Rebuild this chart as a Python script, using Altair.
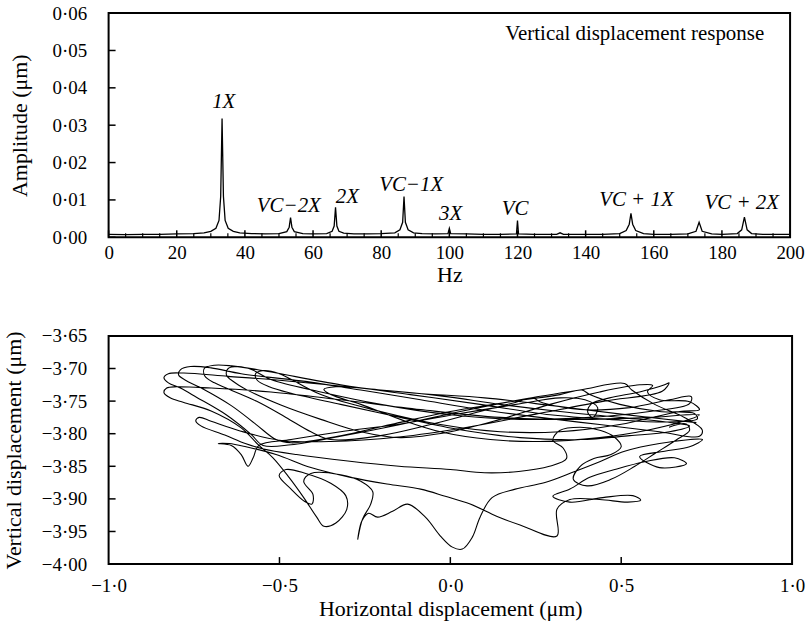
import altair as alt
import pandas as pd

FONT = "Liberation Serif"

# ---------------- top panel: amplitude spectrum ----------------
spec_hz = [0, 5, 10, 15, 20, 25, 28, 30, 31.5, 32.4, 32.9, 33.3, 33.7, 34.2, 35.1, 36.6, 38.5, 42, 46, 50,
           52.3, 53.0, 53.4, 53.8, 54.5, 57, 60, 64, 65.6, 66.2, 66.6, 67.0, 67.6, 69, 72, 76, 80, 84,
           85.5, 86.3, 86.7, 87.1, 87.9, 89.5, 92, 96, 99.6, 100, 100.4, 105, 110, 115, 119.7, 120, 120.3,
           125, 131.5, 132.5, 133.5, 140, 145, 150, 151.9, 152.8, 153.3, 153.8, 154.7, 157, 160, 165, 170,
           172.4, 173.3, 174.2, 177, 180, 184.5, 185.8, 186.6, 187.4, 188.7, 192, 196, 200]
spec_amp = [0.0008, 0.0007, 0.0008, 0.0008, 0.0009, 0.0010, 0.0012, 0.0016, 0.0024, 0.0045, 0.011, 0.0318,
            0.011, 0.0045, 0.0024, 0.0016, 0.0012, 0.0010, 0.0009, 0.0010,
            0.0015, 0.0027, 0.0053, 0.0027, 0.0015, 0.0010, 0.0009, 0.0010, 0.0016, 0.0030, 0.0080, 0.0030,
            0.0016, 0.0011, 0.0009, 0.0009, 0.0010, 0.0012,
            0.0020, 0.0040, 0.0109, 0.0040, 0.0020, 0.0012, 0.0010, 0.0009, 0.0010, 0.0024, 0.0010, 0.0009,
            0.0008, 0.0008, 0.0009, 0.0045, 0.0009,
            0.0008, 0.0008, 0.0012, 0.0008, 0.0008, 0.0008, 0.0010, 0.0018, 0.0035, 0.0064, 0.0035, 0.0018,
            0.0010, 0.0008, 0.0008, 0.0009,
            0.0016, 0.0040, 0.0016, 0.0009, 0.0008, 0.0010, 0.0020, 0.0054, 0.0020, 0.0010, 0.0008, 0.0008,
            0.0008]

peak_labels = ["1X", "VC\u22122X", "2X", "VC\u22121X", "3X", "VC", "VC + 1X", "VC + 2X"]
label_hz = [33.8, 52.9, 70.1, 88.8, 100.4, 119.3, 154.9, 185.8]
label_amp = [0.0362, 0.0085, 0.0107, 0.0139, 0.0061, 0.0075, 0.0099, 0.0091]

response_title = ["Vertical displacement response"]
response_hz = [154.4]
response_amp = [0.0544]

x_major_ticks = list(range(0, 201, 20))
x_minor_ticks = [v for v in range(5, 200, 5) if v % 20 != 0]
amp_ticks = [0.0, 0.01, 0.02, 0.03, 0.04, 0.05, 0.06]

# ---------------- bottom panel: orbit (traced path, in order) ----------------
loop_1 = [(0.720, -3.783), (0.500, -3.770), (0.300, -3.757), (0.100, -3.745), (-0.100, -3.738),
          (-0.300, -3.728), (-0.500, -3.718), (-0.650, -3.712),
          (-0.780, -3.707), (-0.825, -3.708), (-0.838, -3.714), (-0.825, -3.722), (-0.790, -3.730),
          (-0.743, -3.744), (-0.656, -3.771), (-0.583, -3.801),
          (-0.548, -3.818), (-0.466, -3.817), (-0.321, -3.804), (-0.146, -3.786), (0.029, -3.766),
          (0.204, -3.748), (0.379, -3.733), (0.510, -3.723), (0.531, -3.733), (0.598, -3.755),
          (0.685, -3.775), (0.737, -3.794), (0.729, -3.804), (0.612, -3.797), (0.437, -3.786),
          (0.262, -3.775), (0.087, -3.763), (-0.087, -3.748), (-0.262, -3.733), (-0.437, -3.719),
          (-0.612, -3.708), (-0.700, -3.699), (-0.760, -3.697), (-0.790, -3.702), (-0.795, -3.710),
          (-0.775, -3.718)]
loop_2 = [(-0.729, -3.730), (-0.641, -3.757), (-0.568, -3.786), (-0.510, -3.809),
          (-0.466, -3.814), (-0.350, -3.806), (-0.175, -3.786), (0.000, -3.766), (0.175, -3.751),
          (0.321, -3.740), (0.385, -3.733), (0.408, -3.740), (0.496, -3.755), (0.612, -3.766),
          (0.714, -3.769), (0.723, -3.777), (0.641, -3.782), (0.466, -3.778), (0.292, -3.771),
          (0.087, -3.755), (-0.117, -3.740), (-0.321, -3.725), (-0.550, -3.703), (-0.640, -3.696),
          (-0.690, -3.695), (-0.720, -3.700), (-0.718, -3.712), (-0.690, -3.722)]
loop_3 = [(-0.656, -3.730), (-0.568, -3.750), (-0.481, -3.775), (-0.408, -3.797),
          (-0.350, -3.809), (-0.204, -3.803), (-0.058, -3.786), (0.087, -3.766), (0.190, -3.752),
          (0.242, -3.745), (0.262, -3.751), (0.379, -3.763), (0.525, -3.760), (0.641, -3.748),
          (0.705, -3.743), (0.700, -3.754), (0.583, -3.766), (0.408, -3.775), (0.204, -3.778),
          (0.000, -3.771), (-0.204, -3.755), (-0.379, -3.736), (-0.525, -3.717), (-0.580, -3.702),
          (-0.620, -3.697), (-0.650, -3.700), (-0.655, -3.710), (-0.635, -3.720)]
loop_4 = [(-0.598, -3.732), (-0.496, -3.756), (-0.379, -3.778), (-0.262, -3.797),
          (-0.146, -3.806), (0.000, -3.797), (0.146, -3.778), (0.292, -3.755), (0.437, -3.736),
          (0.554, -3.725), (0.592, -3.726), (0.577, -3.736), (0.612, -3.748), (0.700, -3.751),
          (0.729, -3.763), (0.671, -3.766), (0.496, -3.786), (0.321, -3.797), (0.146, -3.797),
          (-0.029, -3.786), (-0.204, -3.766), (-0.379, -3.740), (-0.500, -3.708), (-0.545, -3.703),
          (-0.570, -3.708), (-0.565, -3.718), (-0.530, -3.728)]
loop_5 = [(-0.466, -3.738), (-0.321, -3.755), (-0.146, -3.775), (0.029, -3.794),
          (0.204, -3.806), (0.379, -3.809), (0.525, -3.803), (0.641, -3.797), (0.700, -3.788),
          (0.647, -3.783), (0.496, -3.775), (0.321, -3.766), (0.146, -3.755), (-0.029, -3.742),
          (-0.204, -3.733), (-0.335, -3.728), (-0.370, -3.732), (-0.350, -3.740), (-0.262, -3.755),
          (-0.146, -3.778), (-0.029, -3.797), (0.117, -3.809), (0.262, -3.812), (0.437, -3.806),
          (0.583, -3.794), (0.700, -3.778), (0.729, -3.771)]
loop_6 = [(0.583, -3.775), (0.379, -3.778), (0.146, -3.775), (-0.087, -3.763), (-0.321, -3.748),
          (-0.525, -3.736), (-0.700, -3.730), (-0.800, -3.728), (-0.830, -3.730), (-0.838, -3.737),
          (-0.820, -3.745), (-0.780, -3.752), (-0.700, -3.765), (-0.612, -3.791), (-0.560, -3.818)]
lower_band = [(-0.519, -3.837), (-0.472, -3.867), (-0.429, -3.898), (-0.391, -3.928), (-0.370, -3.942),
              (-0.335, -3.937), (-0.303, -3.916), (-0.306, -3.895), (-0.350, -3.876), (-0.423, -3.861),
              (-0.481, -3.855), (-0.501, -3.864), (-0.466, -3.885), (-0.426, -3.904), (-0.405, -3.908),
              (-0.402, -3.893), (-0.429, -3.873), (-0.408, -3.861), (-0.321, -3.863), (-0.262, -3.873),
              (-0.227, -3.889), (-0.233, -3.908), (-0.257, -3.931), (-0.271, -3.962), (-0.259, -3.934),
              (-0.239, -3.922), (-0.213, -3.928), (-0.169, -3.919), (-0.125, -3.908), (-0.073, -3.928),
              (-0.029, -3.957), (0.006, -3.974), (0.035, -3.977), (0.064, -3.959), (0.087, -3.928),
              (0.122, -3.898), (0.190, -3.885), (0.277, -3.875), (0.364, -3.858), (0.437, -3.843),
              (0.510, -3.827), (0.612, -3.815), (0.738, -3.809), (0.700, -3.820), (0.627, -3.827),
              (0.554, -3.835), (0.612, -3.852), (0.691, -3.846), (0.656, -3.837), (0.569, -3.843),
              (0.481, -3.855), (0.408, -3.867), (0.350, -3.885), (0.300, -3.896), (0.350, -3.905),
              (0.446, -3.898), (0.534, -3.895), (0.557, -3.902), (0.519, -3.905), (0.437, -3.901),
              (0.350, -3.901), (0.312, -3.916), (0.312, -3.957), (0.204, -3.940), (0.137, -3.927),
              (0.058, -3.908), (-0.015, -3.896), (-0.087, -3.885), (-0.175, -3.878), (-0.292, -3.867),
              (-0.408, -3.852), (-0.510, -3.832), (-0.598, -3.820), (-0.647, -3.815), (-0.679, -3.815),
              (-0.641, -3.818), (-0.612, -3.832), (-0.592, -3.850), (-0.577, -3.837), (-0.560, -3.818)]
loop_7 = [(-0.466, -3.809), (-0.321, -3.797), (-0.146, -3.785), (0.029, -3.769), (0.204, -3.754),
          (0.321, -3.745), (0.394, -3.748), (0.431, -3.760), (0.417, -3.775), (0.402, -3.767),
          (0.414, -3.754), (0.466, -3.745), (0.554, -3.736), (0.627, -3.725), (0.640, -3.722),
          (0.620, -3.735), (0.450, -3.750), (0.250, -3.770), (0.050, -3.790), (-0.150, -3.805),
          (-0.350, -3.812), (-0.500, -3.810), (-0.620, -3.795), (-0.700, -3.781), (-0.735, -3.775),
          (-0.745, -3.780), (-0.730, -3.788), (-0.660, -3.802), (-0.600, -3.815), (-0.550, -3.823),
          (-0.450, -3.832), (-0.300, -3.842), (-0.150, -3.850), (0.000, -3.855), (0.100, -3.860)]
tail = [(0.200, -3.858), (0.290, -3.850), (0.340, -3.838), (0.330, -3.822), (0.300, -3.810),
        (0.320, -3.795), (0.380, -3.790), (0.440, -3.795), (0.480, -3.805), (0.500, -3.820),
        (0.470, -3.832), (0.420, -3.838), (0.380, -3.850), (0.360, -3.870), (0.400, -3.880),
        (0.470, -3.870), (0.540, -3.850), (0.600, -3.830), (0.660, -3.810), (0.700, -3.795),
        (0.690, -3.785), (0.640, -3.790)]

h_ticks = [-0.5, 0.0, 0.5]
v_ticks = [-3.95, -3.90, -3.85, -3.80, -3.75, -3.70]

orbit_points = loop_1 + loop_2 + loop_3 + loop_4 + loop_5 + loop_6 + lower_band + loop_7 + tail

# ---------------- build ----------------
W1, H1 = 684, 225
W2, H2 = 686, 229
LBL = 19
TTL = 22

spec_df = pd.DataFrame({"hz": spec_hz, "amp": spec_amp})
lab_df = pd.DataFrame({"hz": label_hz, "amp": label_amp, "txt": peak_labels})
resp_df = pd.DataFrame({"hz": response_hz, "amp": response_amp, "txt": response_title})
xmaj_df = pd.DataFrame({"hz": x_major_ticks})
xmin_df = pd.DataFrame({"hz": x_minor_ticks})
ytick_df = pd.DataFrame({"amp": amp_ticks})

ax_common = dict(grid=False, ticks=False, domain=False, labelFont=FONT, titleFont=FONT,
                 labelColor="black", titleColor="black", titleFontWeight="normal",
                 labelFontSize=LBL, titleFontSize=TTL, labelFlush=False, labelOverlap=False)

x1 = alt.X("hz:Q", scale=alt.Scale(domain=[0, 200], nice=False, zero=False),
           axis=alt.Axis(values=x_major_ticks, title="Hz", labelPadding=6,
                         titleY=37, titleBaseline="middle",
                         labelExpr="format(datum.value, 'd')", **ax_common))
y1 = alt.Y("amp:Q", scale=alt.Scale(domain=[0, 0.06], nice=False),
           axis=alt.Axis(values=amp_ticks, title="Amplitude (\u03bcm)", labelPadding=22,
                         titleX=-89, titleBaseline="middle",
                         labelExpr="replace(format(datum.value, '.2f'), '.', '\u00b7')", **ax_common))

spec_line = alt.Chart(spec_df).mark_line(color="black", strokeWidth=1.3).encode(x=x1, y=y1)
spec_text = alt.Chart(lab_df).mark_text(font=FONT, fontSize=21, fontStyle="italic", color="black",
                                        align="center", baseline="middle").encode(x=x1, y=y1, text="txt:N")
resp_text = alt.Chart(resp_df).mark_text(font=FONT, fontSize=21, color="black",
                                         align="center", baseline="middle").encode(x=x1, y=y1, text="txt:N")
xmaj = alt.Chart(xmaj_df).mark_rule(color="black", strokeWidth=1.5).encode(
    x=x1, y=alt.value(H1), y2=alt.value(H1 - 7))
xmin = alt.Chart(xmin_df).mark_rule(color="black", strokeWidth=1.2).encode(
    x=x1, y=alt.value(H1), y2=alt.value(H1 - 4))
ytk = alt.Chart(ytick_df).mark_rule(color="black", strokeWidth=1.5).encode(
    y=y1, x=alt.value(0), x2=alt.value(7))

top = alt.layer(spec_line, xmaj, xmin, ytk, spec_text, resp_text).properties(width=W1, height=H1)

orb_df = pd.DataFrame({"h": [p[0] for p in orbit_points], "v": [p[1] for p in orbit_points],
                       "i": list(range(len(orbit_points)))})
htick_df = pd.DataFrame({"h": h_ticks})
vtick_df = pd.DataFrame({"v": v_ticks})

x2 = alt.X("h:Q", scale=alt.Scale(domain=[-1, 1], nice=False, zero=False),
           axis=alt.Axis(values=[-1.0, -0.5, 0.0, 0.5, 1.0], title="Horizontal displacement (\u03bcm)",
                         labelPadding=13, titleY=45, titleBaseline="middle",
                         labelExpr="replace(format(datum.value, '.1f'), '.', '\u00b7')", **ax_common))
y2 = alt.Y("v:Q", scale=alt.Scale(domain=[-4.0, -3.65], nice=False, zero=False),
           axis=alt.Axis(values=[-4.0, -3.95, -3.9, -3.85, -3.8, -3.75, -3.7, -3.65],
                         title="Vertical displacement (\u03bcm)", labelPadding=22,
                         titleX=-95, titleBaseline="middle",
                         labelExpr="replace(format(datum.value, '.2f'), '.', '\u00b7')", **ax_common))

orbit = alt.Chart(orb_df).mark_line(color="black", strokeWidth=1.1, interpolate="catmull-rom").encode(
    x=x2, y=y2, order="i:Q")
htk = alt.Chart(htick_df).mark_rule(color="black", strokeWidth=1.5).encode(
    x=x2, y=alt.value(H2), y2=alt.value(H2 - 7))
vtk = alt.Chart(vtick_df).mark_rule(color="black", strokeWidth=1.5).encode(
    y=y2, x=alt.value(0), x2=alt.value(7))

bottom = alt.layer(orbit, htk, vtk).properties(width=W2, height=H2)

chart = alt.vconcat(top, bottom, spacing=99, bounds="flush").properties(
    padding={"left": 1, "top": 2, "right": 5, "bottom": 5}
).configure(background="white").configure_view(stroke="black", strokeWidth=2)

chart.save("out.html", embed_options={"renderer": "svg", "actions": False})
